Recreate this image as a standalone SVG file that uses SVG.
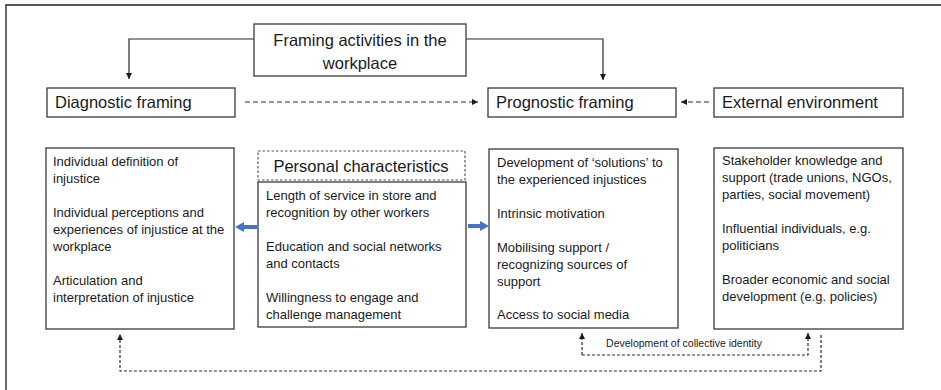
<svg xmlns="http://www.w3.org/2000/svg" width="941" height="390" viewBox="0 0 941 390">
<style>
.box{fill:#fff;stroke:#3a3a3a;stroke-width:1.3}
.dbox{fill:#fff;stroke:#555;stroke-width:1.2;stroke-dasharray:2.5 2}
.t{font-family:"Liberation Sans",Arial,sans-serif;font-size:16.5px;fill:#1a1a1a}
.s{font-family:"Liberation Sans",Arial,sans-serif;font-size:13px;fill:#1a1a1a}
.c{font-family:"Liberation Sans",Arial,sans-serif;font-size:10.5px;fill:#1a1a1a}
.ln{fill:none;stroke:#2a2a2a;stroke-width:1.2}
.dl{fill:none;stroke:#2a2a2a;stroke-width:1.2;stroke-dasharray:5 3}
.dt{fill:none;stroke:#2a2a2a;stroke-width:1.2;stroke-dasharray:3 2}
.blue{fill:#4472c4}
</style>
<defs>
<marker id="ah" viewBox="0 0 10 10" refX="10" refY="5" markerWidth="6" markerHeight="6" markerUnits="userSpaceOnUse" orient="auto">
<path d="M0,0 L10,5 L0,10 z" fill="#1a1a1a"/>
</marker>
</defs>
<g id="frame">
<line x1="6" y1="5" x2="941" y2="5" stroke="#555" stroke-width="2"/>
<line x1="6" y1="4" x2="6" y2="390" stroke="#444" stroke-width="1.6"/>
</g>
<g id="connectors">
<path class="ln" d="M254,39 H129 V79" marker-end="url(#ah)"/>
<path class="ln" d="M466,39 H603 V80" marker-end="url(#ah)"/>
<path class="dl" d="M245,102 H478" marker-end="url(#ah)"/>
<path class="dl" d="M709,102 H681" marker-end="url(#ah)"/>
<path class="dt" d="M821,335 V371 H120 V334" marker-end="url(#ah)"/>
<path class="dt" d="M582,355 V333" marker-end="url(#ah)"/>
<path class="dt" d="M582,355 H808 V333" marker-end="url(#ah)"/>
<path class="blue" d="M257,225 H244 V222 L235,227 L244,232 V229 H257 z"/>
<path class="blue" d="M468,224 H480 V221 L489,226 L480,231 V228 H468 z"/>
<text class="c" x="684" y="347" text-anchor="middle">Development of collective identity</text>
</g>
<g id="framing">
<rect class="box" x="254" y="24" width="212" height="52"/>
<text class="t" x="360" y="46" text-anchor="middle">Framing activities in the</text>
<text class="t" x="360" y="69" text-anchor="middle">workplace</text>
</g>
<g id="diagnostic">
<rect class="box" x="47" y="88" width="188" height="29"/>
<text class="t" x="55" y="108">Diagnostic framing</text>
</g>
<g id="prognostic">
<rect class="box" x="488" y="88" width="188" height="29"/>
<text class="t" x="496" y="108">Prognostic framing</text>
</g>
<g id="external">
<rect class="box" x="714" y="88" width="189" height="29"/>
<text class="t" x="722" y="108">External environment</text>
</g>
<g id="diagnostic-details">
<rect class="box" x="46" y="148" width="188" height="181"/>
<text class="s" x="53" y="166">Individual definition of</text>
<text class="s" x="53" y="183">injustice</text>
<text class="s" x="53" y="217">Individual perceptions and</text>
<text class="s" x="53" y="234">experiences of injustice at the</text>
<text class="s" x="53" y="251">workplace</text>
<text class="s" x="53" y="285">Articulation and</text>
<text class="s" x="53" y="302">interpretation of injustice</text>
</g>
<g id="personal-title">
<rect class="dbox" x="258" y="151" width="207" height="29"/>
<text class="t" x="361" y="172" text-anchor="middle">Personal characteristics</text>
</g>
<g id="personal-details">
<rect class="box" x="258" y="182" width="208" height="145"/>
<text class="s" x="266" y="200">Length of service in store and</text>
<text class="s" x="266" y="217">recognition by other workers</text>
<text class="s" x="266" y="251">Education and social networks</text>
<text class="s" x="266" y="268">and contacts</text>
<text class="s" x="266" y="302">Willingness to engage and</text>
<text class="s" x="266" y="319">challenge management</text>
</g>
<g id="prognostic-details">
<rect class="box" x="489" y="149" width="189" height="179"/>
<text class="s" x="497" y="167">Development of ‘solutions’ to</text>
<text class="s" x="497" y="184">the experienced injustices</text>
<text class="s" x="497" y="218">Intrinsic motivation</text>
<text class="s" x="497" y="252">Mobilising support /</text>
<text class="s" x="497" y="269">recognizing sources of</text>
<text class="s" x="497" y="286">support</text>
<text class="s" x="497" y="319">Access to social media</text>
</g>
<g id="external-details">
<rect class="box" x="714" y="148" width="189" height="181"/>
<text class="s" x="722" y="165">Stakeholder knowledge and</text>
<text class="s" x="722" y="182">support (trade unions, NGOs,</text>
<text class="s" x="722" y="199">parties, social movement)</text>
<text class="s" x="722" y="233">Influential individuals, e.g.</text>
<text class="s" x="722" y="250">politicians</text>
<text class="s" x="722" y="284">Broader economic and social</text>
<text class="s" x="722" y="301">development (e.g. policies)</text>
</g>
</svg>
